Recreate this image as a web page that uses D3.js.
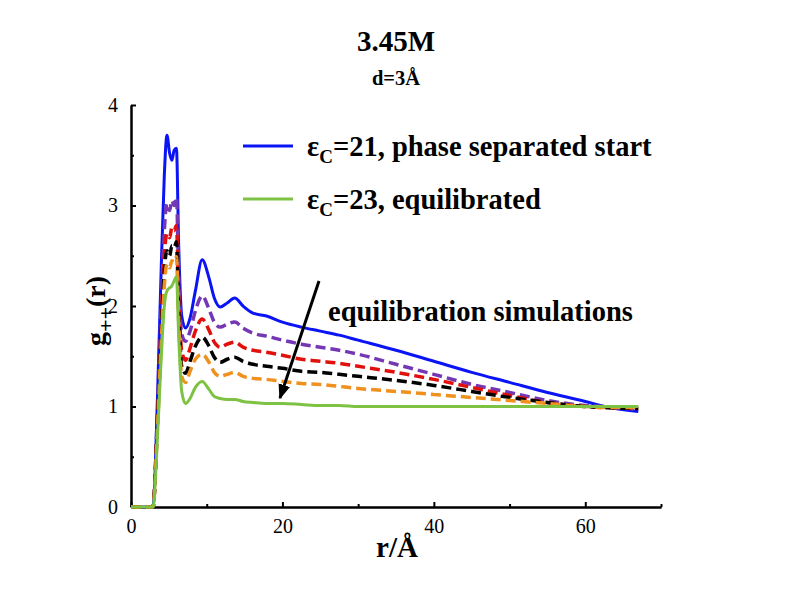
<!DOCTYPE html>
<html>
<head>
<meta charset="utf-8">
<script src="https://cdn.jsdelivr.net/npm/d3@7"></script>
<style>
  body { margin: 0; background: #fff; }
  text { font-family: "Liberation Serif", "Times New Roman", serif; }
</style>
</head>
<body>
<svg id="chart" width="792" height="612"></svg>
<script>
// radial distance (Angstrom) shared by all curves
var rValues = [0, 2.9, 3.5, 4.0, 4.4, 4.75, 5.1, 5.4, 5.7, 6.0, 6.3, 6.7, 7.2, 7.8, 8.5, 9.4, 10.3, 11.0, 11.8, 12.7,
               13.7, 14.8, 16.1, 17.9, 20, 22.5, 25, 27.5, 30, 35, 40, 45, 50, 55, 60, 62.5, 67];

var gBlue   = [0, 0, 1.1, 2.4, 3.3, 3.70, 3.52, 3.45, 3.55, 3.57, 2.6, 1.9, 1.78, 1.88, 2.15, 2.46, 2.28, 2.08, 1.99, 2.03,
               2.08, 2.00, 1.93, 1.90, 1.84, 1.79, 1.75, 1.71, 1.66, 1.56, 1.45, 1.34, 1.24, 1.14, 1.05, 1.00, 0.95];
var gPurple = [0, 0, 0.95, 2.0, 2.75, 3.02, 2.95, 3.05, 3.0, 3.08, 2.3, 1.72, 1.65, 1.75, 1.95, 2.10, 1.97, 1.84, 1.79, 1.82,
               1.84, 1.78, 1.73, 1.70, 1.66, 1.62, 1.59, 1.56, 1.52, 1.42, 1.32, 1.22, 1.14, 1.06, 1.01, 1.00, 0.97];
var gRed    = [0, 0, 0.9, 1.85, 2.5, 2.72, 2.68, 2.78, 2.75, 2.80, 2.1, 1.55, 1.46, 1.58, 1.75, 1.87, 1.76, 1.64, 1.59, 1.62,
               1.64, 1.59, 1.56, 1.54, 1.51, 1.47, 1.45, 1.43, 1.40, 1.34, 1.27, 1.19, 1.11, 1.04, 1.00, 0.99, 0.98];
var gBlack  = [0, 0, 0.85, 1.75, 2.35, 2.55, 2.5, 2.6, 2.58, 2.64, 1.95, 1.40, 1.33, 1.45, 1.60, 1.69, 1.60, 1.49, 1.44, 1.47,
               1.49, 1.45, 1.42, 1.40, 1.38, 1.35, 1.34, 1.32, 1.30, 1.26, 1.21, 1.15, 1.09, 1.04, 1.00, 0.99, 0.98];
var gOrange = [0, 0, 0.8, 1.65, 2.2, 2.42, 2.38, 2.45, 2.44, 2.49, 1.85, 1.30, 1.24, 1.35, 1.47, 1.52, 1.44, 1.34, 1.30, 1.32,
               1.34, 1.30, 1.28, 1.27, 1.25, 1.23, 1.22, 1.20, 1.18, 1.15, 1.12, 1.09, 1.06, 1.03, 1.00, 0.99, 0.99];
var gGreen  = [0, 0, 0.7, 1.5, 2.0, 2.15, 2.18, 2.2, 2.25, 2.29, 1.7, 1.15, 1.03, 1.08, 1.19, 1.25, 1.17, 1.10, 1.08, 1.07,
               1.07, 1.05, 1.04, 1.03, 1.03, 1.02, 1.01, 1.01, 1.0, 1.0, 1.0, 1.0, 1.0, 1.0, 1.0, 1.0, 1.0];

var xTicks = [0, 20, 40, 60];
var yTicks = [0, 1, 2, 3, 4];

var series = [
    {values: gBlue,   color: "#0a14f5", dash: null,   width: 3},
    {values: gPurple, color: "#7438b4", dash: "10,5", width: 3.5},
    {values: gRed,    color: "#e0100c", dash: "10,5", width: 3.5},
    {values: gBlack,  color: "#000000", dash: "10,5", width: 3.5},
    {values: gOrange, color: "#f0901e", dash: "10,5", width: 3.5},
    {values: gGreen,  color: "#7ec244", dash: null,   width: 3}
];

var svg = d3.select("#chart");
var x = d3.scaleLinear().domain([0, 70]).range([131, 661]);
var y = d3.scaleLinear().domain([0, 4]).range([507, 105]);

// Axes, ticks pointing inward
svg.append('g').attr('transform', "translate(0," + y(0) + ")")
    .call(d3.axisBottom(x).tickValues(xTicks).tickSize(-5).tickPadding(12).tickSizeOuter(0).tickFormat(d3.format("d")));
svg.append('g').attr('transform', "translate(0," + y(0) + ")")
    .call(d3.axisBottom(x).tickValues([10, 30, 50, 70]).tickSize(-3).tickFormat("").tickSizeOuter(0));
svg.append('g').attr('transform', "translate(" + x(0) + ",0)")
    .call(d3.axisLeft(y).tickValues(yTicks).tickSize(-5).tickPadding(13).tickSizeOuter(0).tickFormat(d3.format("d")));
svg.append('g').attr('transform', "translate(" + x(0) + ",0)")
    .call(d3.axisLeft(y).tickValues([0.5, 1.5, 2.5, 3.5]).tickSize(-3).tickFormat("").tickSizeOuter(0));
svg.selectAll('.domain, .tick line').attr('stroke', "#000").attr('stroke-width', 2);
svg.selectAll('.tick text').attr('fill', "#000")
    .style('font-family', "'Liberation Serif', serif").style('font-size', "20px");

// Curves
var line = d3.line()
    .x(function(d) { return x(d[0]); })
    .y(function(d) { return y(d[1]); })
    .curve(d3.curveMonotoneX);

series.forEach(function(s) {
    var pts = rValues.map(function(r, i) { return [r, s.values[i]]; });
    svg.append('path')
        .attr('d', line(pts))
        .attr('fill', "none")
        .attr('stroke', s.color)
        .attr('stroke-width', s.width)
        .attr('stroke-dasharray', s.dash);
});

// Titles
svg.append('text').attr('x', 396).attr('y', 51).attr('text-anchor', "middle")
    .attr('font-size', 29).attr('font-weight', "bold").text("3.45M");
svg.append('text').attr('x', 396).attr('y', 85).attr('text-anchor', "middle")
    .attr('font-size', 20.5).attr('font-weight', "bold").text("d=3Å");

svg.append('text').attr('x', 397).attr('y', 557).attr('text-anchor', "middle")
    .attr('font-size', 29).attr('font-weight', "bold").text("r/Å");

var ylab = svg.append('text')
    .attr('transform', "translate(105, 311) rotate(-90)")
    .attr('text-anchor', "middle")
    .attr('font-size', 28).attr('font-weight', "bold");
ylab.append('tspan').text("g");
ylab.append('tspan').attr('font-size', 22).attr('dy', 8).text("++");
ylab.append('tspan').attr('dy', -8).text("(r)");

// Legend
var legend = [
    {color: "#0a14f5", num: "=21, phase separated start", y: 146},
    {color: "#7ec244", num: "=23, equilibrated", y: 199}
];
legend.forEach(function(d) {
    svg.append('line')
        .attr('x1', 243).attr('x2', 293).attr('y1', d.y).attr('y2', d.y)
        .attr('stroke', d.color).attr('stroke-width', 3);
    var t = svg.append('text').attr('x', 307).attr('y', d.y + 10)
        .attr('font-size', 28.5).attr('font-weight', "bold");
    t.append('tspan').text("ε");
    t.append('tspan').attr('font-size', 19).attr('dy', 7).text("C");
    t.append('tspan').attr('dy', -7).text(d.num);
});

// Annotation with arrow
svg.append('defs').append('marker')
    .attr('id', "head").attr('viewBox', "0 0 10 10").attr('refX', 9).attr('refY', 5)
    .attr('markerWidth', 5).attr('markerHeight', 5).attr('orient', "auto")
    .append('path').attr('d', "M0,1 L10,5 L0,9 Z").attr('fill', "#000");
svg.append('line')
    .attr('x1', 319).attr('y1', 281).attr('x2', 280).attr('y2', 398)
    .attr('stroke', "#000").attr('stroke-width', 3).attr('marker-end', "url(#head)");
svg.append('text').attr('x', 328).attr('y', 321)
    .attr('font-size', 28.5).attr('font-weight', "bold").text("equilibration simulations");
</script>
</body>
</html>
